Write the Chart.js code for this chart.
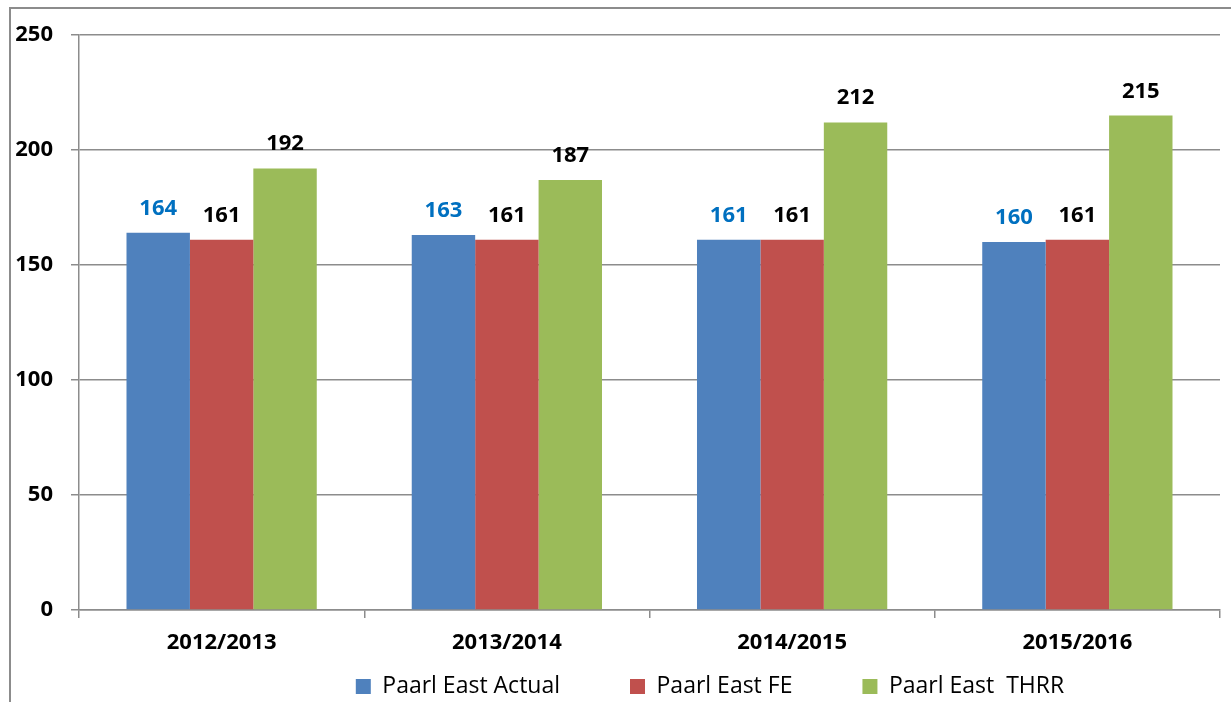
<!DOCTYPE html>
<html>
<head>
<meta charset="utf-8">
<title>Paarl East</title>
<script src="https://cdn.jsdelivr.net/npm/chart.js@4.4.0/dist/chart.umd.min.js"></script>
<style>
    body { margin: 0; background: #fff; overflow: hidden; }
    #frame {
        position: absolute; left: 9px; top: 7px;
        width: 1400px; height: 900px;
        border: 2px solid #8c8c8c;
    }
    #chart { position: absolute; left: 0; top: 0; }
</style>
</head>
<body>
<div id="frame"></div>
<canvas id="chart" width="1231" height="702"></canvas>
<script>
const categories = ["2012/2013", "2013/2014", "2014/2015", "2015/2016"];
const actualValues = [164, 163, 161, 160];
const feValues = [161, 161, 161, 161];
const thrrValues = [192, 187, 212, 215];
const seriesNames = ["Paarl East Actual", "Paarl East FE", "Paarl East  THRR"];
const yTicks = [0, 50, 100, 150, 200, 250];

const gridColor = "#8c8c8c";

// value labels above each bar
const barLabels = {
    id: "barLabels",
    afterDatasetsDraw(chart) {
        const ctx = chart.ctx;
        ctx.save();
        ctx.font = "bold 22px 'Open Sans'";
        ctx.textAlign = "center";
        ctx.textBaseline = "alphabetic";
        chart.data.datasets.forEach((ds, i) => {
            const meta = chart.getDatasetMeta(i);
            ctx.fillStyle = i === 0 ? "#0070C0" : "#000";
            meta.data.forEach((bar, j) => {
                ctx.fillText(ds.data[j], bar.x, bar.y - 18);
            });
        });
        ctx.restore();
    },
};

// move the legend to where the original puts it
// (the legend clips to its own box, so stretch the box down to the canvas edge)
const legendNudge = {
    id: "legendNudge",
    afterLayout(chart) {
        const lg = chart.legend;
        lg.left += 100;
        lg.right += 100;
        lg.top -= 57;
        lg.bottom = chart.height;
    },
};

new Chart(document.getElementById("chart"), {
    type: "bar",
    data: {
        labels: categories,
        datasets: [
            { label: seriesNames[0], data: actualValues, backgroundColor: "#4F81BD" },
            { label: seriesNames[1], data: feValues, backgroundColor: "#C0504D" },
            { label: seriesNames[2], data: thrrValues, backgroundColor: "#9BBB59" },
        ],
    },
    options: {
        responsive: false,
        animation: false,
        layout: { padding: { top: 35, right: 11, left: 0, bottom: 0 } },
        datasets: {
            bar: { categoryPercentage: 0.667, barPercentage: 1.0 },
        },
        scales: {
            x: {
                offset: true,
                grid: {
                    offset: true,
                    drawOnChartArea: false,
                    tickLength: 8,
                    color: gridColor,
                    lineWidth: 1.5,
                },
                border: { display: true, color: gridColor, width: 1.5 },
                ticks: {
                    color: "#000",
                    font: { family: "'Open Sans'", size: 22, weight: "bold" },
                    padding: 12,
                    maxRotation: 0,
                },
                afterFit(scale) { scale.height = 52; },
            },
            y: {
                min: 0,
                max: 250,
                afterBuildTicks(scale) {
                    scale.ticks = yTicks.map((v) => ({ value: v }));
                },
                grid: { color: gridColor, lineWidth: 1.5, tickLength: 8 },
                border: { display: true, color: gridColor, width: 1.5 },
                ticks: {
                    color: "#000",
                    font: { family: "'Open Sans'", size: 22, weight: "bold" },
                    padding: 18,
                },
                afterFit(scale) { scale.width = 79; },
            },
        },
        plugins: {
            legend: {
                position: "bottom",
                maxHeight: 40,
                labels: {
                    color: "#000",
                    font: { family: "'Open Sans'", size: 23 },
                    boxWidth: 15,
                    boxHeight: 15,
                    padding: 70,
                },
            },
            tooltip: { enabled: false },
        },
    },
    plugins: [barLabels, legendNudge],
});
</script>
</body>
</html>
